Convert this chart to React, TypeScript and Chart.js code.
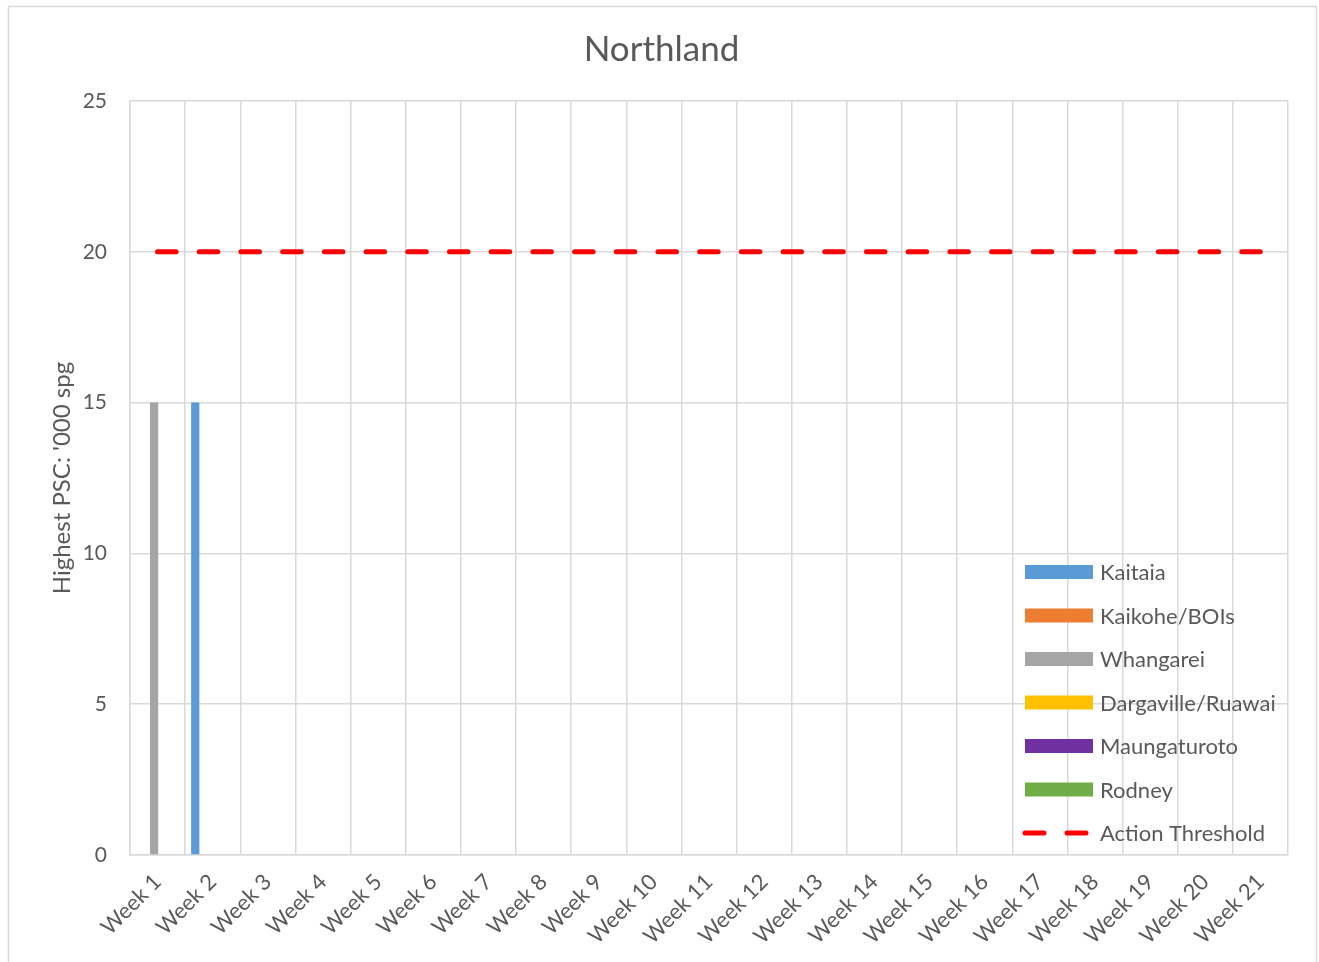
import React, { useEffect, useRef } from "react";
import { Chart, registerables } from "chart.js";

Chart.register(...registerables);

const weeks = [
  "Week 1", "Week 2", "Week 3", "Week 4", "Week 5", "Week 6", "Week 7",
  "Week 8", "Week 9", "Week 10", "Week 11", "Week 12", "Week 13", "Week 14",
  "Week 15", "Week 16", "Week 17", "Week 18", "Week 19", "Week 20", "Week 21",
];

const N = null;
const kaitaia = [N, 15, N, N, N, N, N, N, N, N, N, N, N, N, N, N, N, N, N, N, N];
const kaikohe = [N, N, N, N, N, N, N, N, N, N, N, N, N, N, N, N, N, N, N, N, N];
const whangarei = [15, N, N, N, N, N, N, N, N, N, N, N, N, N, N, N, N, N, N, N, N];
const dargaville = [N, N, N, N, N, N, N, N, N, N, N, N, N, N, N, N, N, N, N, N, N];
const maungaturoto = [N, N, N, N, N, N, N, N, N, N, N, N, N, N, N, N, N, N, N, N, N];
const rodney = [N, N, N, N, N, N, N, N, N, N, N, N, N, N, N, N, N, N, N, N, N];
const actionThreshold = [20, 20, 20, 20, 20, 20, 20, 20, 20, 20, 20, 20, 20, 20, 20, 20, 20, 20, 20, 20, 20];

const yTicks = [0, 5, 10, 15, 20, 25];

const TITLE = "Northland";
const Y_TITLE = "Highest PSC: '000 spg";

const FONT = "Lato, 'Open Sans', sans-serif";
const TEXT = "#595959";
const GRID = "#d9d9d9";

const barSeries = [
  { label: "Kaitaia", data: kaitaia, color: "#5B9BD5" },
  { label: "Kaikohe/BOIs", data: kaikohe, color: "#ED7D31" },
  { label: "Whangarei", data: whangarei, color: "#A5A5A5" },
  { label: "Dargaville/Ruawai", data: dargaville, color: "#FFC000" },
  { label: "Maungaturoto", data: maungaturoto, color: "#7030A0" },
  { label: "Rodney", data: rodney, color: "#70AD47" },
];

const DASH = [18.5, 23.2];

const bgPlugin = {
  id: "bgBorder",
  beforeDraw(chart: any) {
    const ctx = chart.ctx;
    ctx.save();
    ctx.fillStyle = "#ffffff";
    ctx.fillRect(0, 0, chart.width, chart.height);
    ctx.strokeStyle = GRID;
    ctx.lineWidth = 1.5;
    ctx.strokeRect(8.5, 6.5, 1308, 970);
    ctx.fillStyle = TEXT;
    ctx.font = `35px ${FONT}`;
    ctx.textAlign = "center";
    ctx.textBaseline = "middle";
    ctx.fillText(TITLE, chart.width / 2 + 2, 50);
    ctx.restore();
  },
};

const legendPlugin = {
  id: "insideLegend",
  afterDraw(chart: any) {
    const ctx = chart.ctx;
    const area = chart.chartArea;
    const x0 = area.right - 263;
    const rowH = 43.5;
    const datasets = chart.data.datasets;
    const lastY = area.bottom - 22;
    const firstY = lastY - rowH * (datasets.length - 1);
    ctx.save();
    ctx.font = `22px ${FONT}`;
    ctx.textBaseline = "middle";
    ctx.textAlign = "left";
    datasets.forEach((ds: any, i: number) => {
      const y = firstY + i * rowH;
      if (ds.type === "line") {
        ctx.strokeStyle = ds.borderColor;
        ctx.lineWidth = 5;
        ctx.lineCap = "round";
        ctx.setLineDash([19, 23]);
        ctx.beginPath();
        ctx.moveTo(x0, y);
        ctx.lineTo(x0 + 64, y);
        ctx.stroke();
        ctx.setLineDash([]);
      } else {
        ctx.fillStyle = ds.backgroundColor;
        ctx.fillRect(x0, y - 7, 68, 14);
      }
      ctx.fillStyle = TEXT;
      ctx.fillText(ds.label, x0 + 75, y + 1);
    });
    ctx.restore();
  },
};

export default function App() {
  const ref = useRef<HTMLCanvasElement>(null);

  useEffect(() => {
    if (!ref.current) return;
    const datasets: any[] = barSeries.map((s) => ({
      type: "bar",
      label: s.label,
      data: s.data,
      backgroundColor: s.color,
      borderWidth: 0,
      categoryPercentage: 0.76,
      barPercentage: 1.18,
      order: 2,
    }));
    datasets.push({
      type: "line",
      label: "Action Threshold",
      data: actionThreshold,
      borderColor: "#FF0000",
      backgroundColor: "#FF0000",
      borderWidth: 5,
      borderDash: DASH,
      borderCapStyle: "round",
      pointRadius: 0,
      fill: false,
      order: 1,
    });

    const chart = new Chart(ref.current, {
      type: "bar",
      data: { labels: weeks, datasets },
      plugins: [bgPlugin, legendPlugin],
      options: {
        animation: false,
        responsive: false,
        layout: { padding: { left: 0, right: 31, top: 101, bottom: 0 } },
        plugins: {
          legend: { display: false },
          tooltip: { enabled: false },
          title: { display: false },
        },
        scales: {
          x: {
            offset: true,
            grid: { color: GRID, lineWidth: 1.5, offset: true, drawTicks: false },
            border: { color: GRID, width: 1.5 },
            ticks: {
              color: TEXT,
              font: { family: FONT, size: 22 },
              minRotation: 45,
              maxRotation: 45,
              padding: 14,
              autoSkip: false,
            },
            afterFit(scale: any) {
              scale.height = 107;
            },
          },
          y: {
            min: 0,
            max: 25,
            afterBuildTicks(scale: any) {
              scale.ticks = yTicks.map((v) => ({ value: v }));
            },
            grid: { color: GRID, lineWidth: 1.5, drawTicks: false },
            border: { color: GRID, width: 1.5 },
            ticks: {
              color: TEXT,
              font: { family: FONT, size: 21 },
              padding: 23,
            },
            title: {
              display: true,
              text: Y_TITLE,
              color: TEXT,
              font: { family: FONT, size: 24, lineHeight: 1.2 },
              padding: { top: 48, bottom: 0 },
            },
            afterFit(scale: any) {
              scale.width = 130;
            },
          },
        },
      } as any,
    });
    return () => chart.destroy();
  }, []);

  return (
    <div style={{ position: "absolute", left: 0, top: 0, width: 1319, height: 962 }}>
      <canvas ref={ref} width={1319} height={962} style={{ display: "block" }} />
    </div>
  );
}
